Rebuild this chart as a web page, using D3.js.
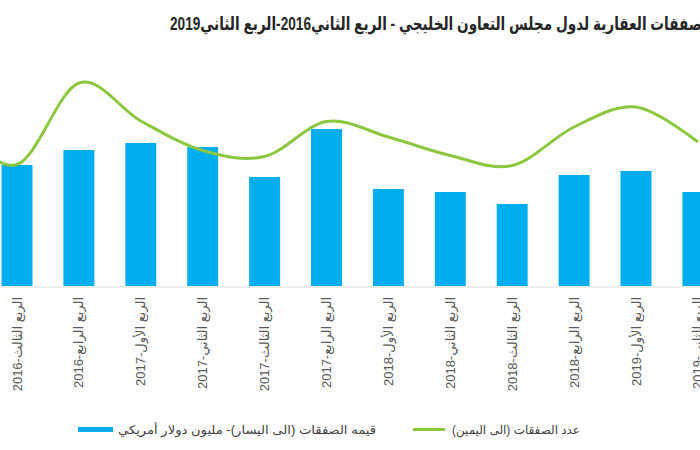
<!DOCTYPE html>
<html>
<head>
<meta charset="utf-8">
<script src="https://cdn.jsdelivr.net/npm/d3@7"></script>
<style>
  html, body { margin: 0; padding: 0; background: #ffffff; }
  svg { display: block; }
</style>
</head>
<body>
<svg id="chart" width="700" height="450"></svg>
<script>
// Categories (quarters). The first one sits just outside the visible crop.
const categories = [
  "الربع الثاني-2016",
  "الربع الثالث-2016", "الربع الرابع-2016",
  "الربع الأول-2017", "الربع الثاني-2017", "الربع الثالث-2017", "الربع الرابع-2017",
  "الربع الأول-2018", "الربع الثاني-2018", "الربع الثالث-2018", "الربع الرابع-2018",
  "الربع الأول-2019", "الربع الثاني-2019"
];
// Value of deals (left axis) - million USD
const dealValues = [1300, 1210, 1360, 1430, 1390, 1090, 1570, 970, 940, 820, 1110, 1150, 940];
// Number of deals (right axis)
const dealCounts = [1610, 1215, 2030, 1650, 1355, 1295, 1645, 1490, 1305, 1205, 1590, 1790, 1440];

const titleText = "الصفقات العقارية لدول مجلس التعاون الخليجي - الربع الثاني2016-الربع الثاني2019";
const legendValue = "قيمه الصفقات (الى اليسار)- مليون دولار أمريكي";
const legendCount = "عدد الصفقات (الى اليمين)";

const barColor = "#00AEEF";
const lineColor = "#8DC63F";
const fontStack = "'Liberation Sans', Arial, 'DejaVu Sans', sans-serif";

const svg = d3.select("#chart");

const x = d3.scaleBand()
  .domain(categories)
  .range([-75.85, 728.85])
  .paddingInner(0.5)
  .paddingOuter(0.25);

const baseY = 286;
const yLeft = d3.scaleLinear().domain([0, 2500]).range([baseY, 36]);
const yRight = d3.scaleLinear().domain([0, 2500]).range([baseY, 36]);

// Title
svg.append("text")
  .attr("x", 712)
  .attr("y", 30)
  .attr("direction", "rtl")
  .style("direction", "rtl")
  .attr("text-anchor", "start")
  .attr("textLength", 542)
  .attr("lengthAdjust", "spacingAndGlyphs")
  .attr("font-family", fontStack)
  .attr("font-weight", "bold")
  .attr("font-size", 18)
  .attr("fill", "#262626")
  .text(titleText);

// Bars
svg.append("g").selectAll("rect")
  .data(categories)
  .join("rect")
  .attr("x", d => x(d))
  .attr("width", x.bandwidth())
  .attr("y", (d, i) => yLeft(dealValues[i]))
  .attr("height", (d, i) => baseY - yLeft(dealValues[i]))
  .attr("fill", barColor);

// Baseline axis
const xAxis = d3.axisBottom(x).tickSize(0).tickFormat("");
const axisG = svg.append("g").attr("transform", `translate(0,${baseY + 0.5})`).call(xAxis);
axisG.select(".domain").attr("stroke", "#d9d9d9").attr("stroke-width", 1);

// Line (smoothed)
const line = d3.line()
  .x((d, i) => x(categories[i]) + x.bandwidth() / 2)
  .y(d => yRight(d))
  .curve(d3.curveCardinal.tension(0));

svg.append("path")
  .datum(dealCounts)
  .attr("d", line)
  .attr("fill", "none")
  .attr("stroke", lineColor)
  .attr("stroke-width", 3)
  .attr("stroke-linejoin", "round");

// Category labels (rotated)
svg.append("g").selectAll("text")
  .data(categories)
  .join("text")
  .attr("transform", d => `translate(${x(d) + x.bandwidth() / 2},297) rotate(-90)`)
  .attr("direction", "rtl")
  .style("direction", "rtl")
  .attr("text-anchor", "start")
  .attr("dy", "0.35em")
  .attr("font-family", fontStack)
  .attr("font-size", 13)
  .attr("fill", "#595959")
  .text(d => d);

// Legend
const legend = svg.append("g");
legend.append("rect").attr("x", 78).attr("y", 427).attr("width", 35).attr("height", 5).attr("fill", barColor);
legend.append("text")
  .attr("x", 376).attr("y", 429.5)
  .attr("direction", "rtl").style("direction", "rtl")
  .attr("text-anchor", "start")
  .attr("dy", "0.35em")
  .attr("textLength", 258)
  .attr("lengthAdjust", "spacingAndGlyphs")
  .attr("font-family", fontStack)
  .attr("font-size", 12)
  .attr("fill", "#404040")
  .text(legendValue);
legend.append("line").attr("x1", 413).attr("x2", 445).attr("y1", 429.5).attr("y2", 429.5)
  .attr("stroke", lineColor).attr("stroke-width", 3);
legend.append("text")
  .attr("x", 580).attr("y", 429.5)
  .attr("direction", "rtl").style("direction", "rtl")
  .attr("text-anchor", "start")
  .attr("dy", "0.35em")
  .attr("textLength", 128)
  .attr("lengthAdjust", "spacingAndGlyphs")
  .attr("font-family", fontStack)
  .attr("font-size", 12)
  .attr("fill", "#404040")
  .text(legendCount);
</script>
</body>
</html>
